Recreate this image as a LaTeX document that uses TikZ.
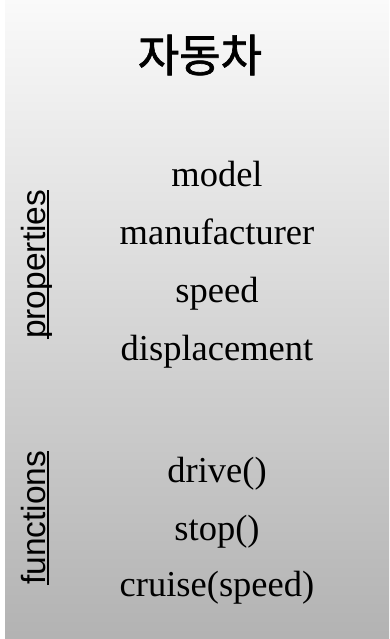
\documentclass[tikz,border=0pt]{standalone}
\usepackage{fontspec}
\setmainfont{Liberation Serif}
\setsansfont{Liberation Sans}
\newfontfamily\kofont[FakeBold=1.5]{Noto Sans CJK KR}
\begin{document}
\begin{tikzpicture}[x=1pt,y=-1pt]
                \useasboundingbox (0,0) rectangle (389,639);
                \shade[top color=white!98!black, bottom color=black!30] (5,0) rectangle (389,639);

                \node[font=\kofont\fontsize{45}{48}\selectfont] (title) at (200,55) {자동차};

                \begin{scope}[every node/.style={anchor=base,inner sep=0pt,
                              font=\fontsize{36.5}{40}\selectfont}]
                    \node (model) at (217,186) {model};
                    \node (maker) at (217,244) {manufacturer};
                    \node (speed) at (217,302) {speed};
                    \node (displ) at (217,360) {displacement};
                    \node (drive) at (217,482) {drive()};
                    \node (stop) at (217,540) {stop()};
                    \node (cruise) at (217,596) {cruise(speed)};
                \end{scope}

                \begin{scope}[every node/.style={rotate=90,anchor=base west,inner sep=0pt,
                              font=\sffamily\fontsize{33.5}{36}\selectfont}]
                    \node (props) at (45,339) {properties};
                    \node (funcs) at (45,585) {functions};
                \end{scope}

                \begin{scope}[line width=2.5pt]
                    \draw ([xshift=3pt]props.base west) -- ([xshift=3pt]props.base east);
                    \draw ([xshift=3pt]funcs.base west) -- ([xshift=3pt]funcs.base east);
                \end{scope}
            \end{tikzpicture}
\end{document}
